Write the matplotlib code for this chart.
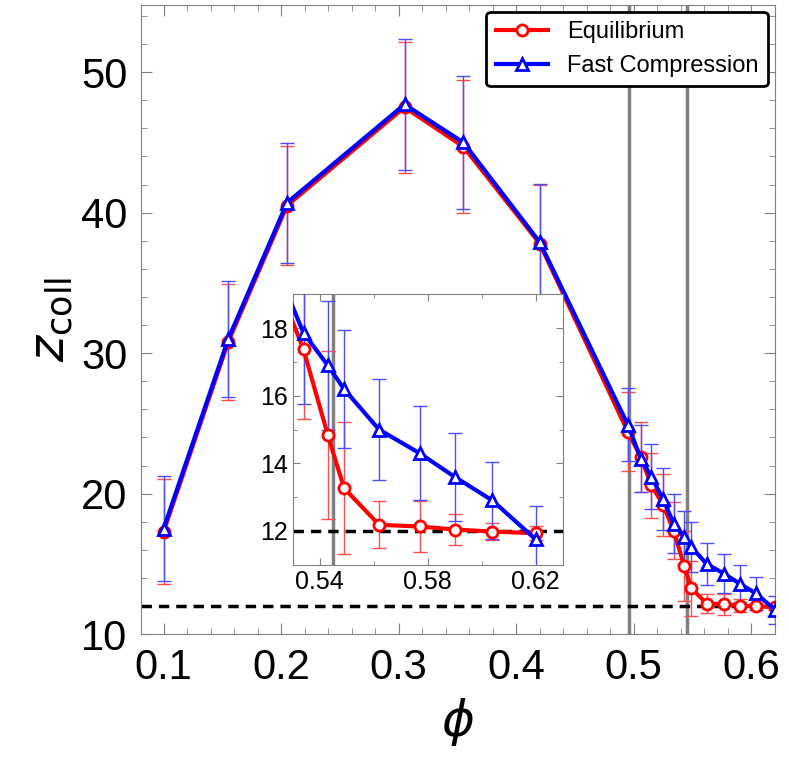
import matplotlib
matplotlib.use("Agg")
import matplotlib.pyplot as plt
import numpy as np

plt.rcParams['font.family'] = ['Liberation Sans', 'DejaVu Sans']

phi = [0.10, 0.155, 0.205, 0.305, 0.355, 0.42, 0.495, 0.506, 0.515, 0.525, 0.534, 0.543, 0.549, 0.562, 0.577, 0.590, 0.604, 0.620]
eq = [17.3, 30.8, 40.5, 47.5, 44.7, 37.8, 24.4, 22.6, 20.6, 19.2, 17.37, 14.84, 13.27, 12.18, 12.13, 12.04, 11.98, 11.93]
eq_err = [3.75, 4.1, 4.25, 4.65, 4.75, 4.15, 2.8, 2.5, 2.3, 2.2, 2.05, 2.5, 1.95, 0.7, 0.75, 0.45, 0.25, 0.2]
fc = [17.5, 31.0, 40.7, 47.7, 45.0, 37.9, 24.9, 22.5, 21.2, 19.6, 17.86, 16.9, 16.2, 15.0, 14.3, 13.6, 12.9, 11.75]
fc_err = [3.75, 4.1, 4.25, 4.65, 4.75, 4.15, 2.6, 2.4, 2.3, 2.2, 2.1, 1.9, 1.75, 1.5, 1.4, 1.3, 1.15, 1.0]
vlines = [0.496, 0.545]
z_iso = 12

fig = plt.figure(figsize=(7.89, 7.81), dpi=100)
ax = fig.add_axes([0.179, 0.188, 0.803, 0.806])
ins = fig.add_axes([0.371, 0.277, 0.342, 0.346])

def draw(a, lw, ms, cap, vlw):
    for v in vlines:
        a.axvline(v, color='gray', lw=vlw, zorder=1)
    a.axhline(z_iso, color='black', ls=(0, (3, 2)), lw=2.5, zorder=2)
    a.errorbar(phi, eq, yerr=eq_err, fmt='none', ecolor=(1, 0.3, 0.3), elinewidth=1, capsize=cap, zorder=3)
    a.errorbar(phi, fc, yerr=fc_err, fmt='none', ecolor=(0.3, 0.3, 1), elinewidth=1, capsize=cap, zorder=3)
    a.plot(phi, eq, '-o', color='red', lw=lw, ms=ms, mfc='white', mew=2, label='Equilibrium', zorder=4)
    a.plot(phi, fc, '-^', color='blue', lw=lw, ms=ms, mfc='white', mew=2, label='Fast Compression', zorder=5)
    for s in a.spines.values():
        s.set_color('gray')
    a.tick_params(which='both', direction='in', top=True, right=True, color='gray')

draw(ax, 3, 8, 5, 2.5)
ax.set_xlim(0.081, 0.62)
ax.set_ylim(10, 54.8)
ax.set_xticks([0.1, 0.2, 0.3, 0.4, 0.5, 0.6])
ax.set_xticklabels(['0.1', '0.2', '0.3', '0.4', '0.5', '0.6'])
ax.set_xticks(np.arange(0.1, 0.62, 0.02), minor=True)
ax.set_yticks([10, 20, 30, 40, 50])
ax.set_yticks(np.arange(10, 55, 2), minor=True)
ax.tick_params(which='major', labelsize=30, length=8, pad=10)
ax.tick_params(which='minor', length=4)
ax.set_xlabel(r'$\phi$', fontsize=36, labelpad=6)
ax.set_ylabel(r'$z_{\rm coll}$', fontsize=36, labelpad=4)
leg = ax.legend(loc='upper right', fontsize=17, frameon=True, fancybox=True, handlelength=2.2,
                borderaxespad=0.3)
leg.get_frame().set_edgecolor('black')
leg.get_frame().set_linewidth(2)
leg.get_frame().set_alpha(1)

draw(ins, 3, 8, 5, 2.5)
ins.set_xlim(0.530, 0.630)
ins.set_ylim(11, 19)
ins.set_xticks([0.54, 0.58, 0.62])
ins.set_xticks([0.56, 0.60], minor=True)
ins.set_yticks([12, 14, 16, 18])
ins.set_yticks([13, 15, 17], minor=True)
ins.tick_params(which='major', labelsize=18, length=5)
ins.tick_params(which='minor', length=3)

fig.savefig('out.png', dpi=100)
